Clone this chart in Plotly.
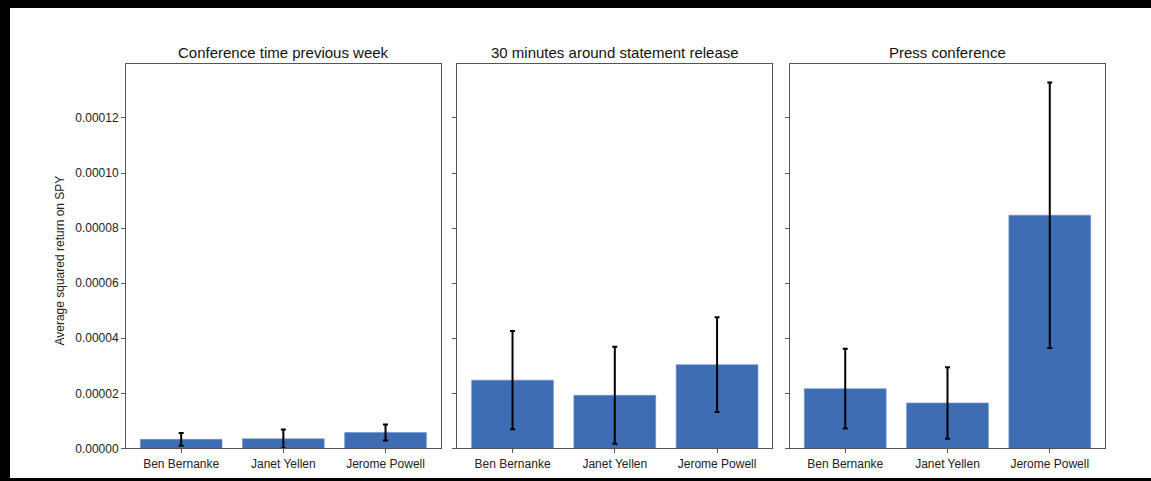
import plotly.graph_objects as go

W, H = 1151, 481
FIG_H = 489

# Data
speakers = ["Ben Bernanke", "Janet Yellen", "Jerome Powell"]
panel_titles = [
    "Conference time previous week",
    "30 minutes around statement release",
    "Press conference",
]
mean_prev_week = [3.3e-6, 3.5e-6, 5.8e-6]
err_prev_week = [2.3e-6, 3.4e-6, 2.9e-6]
mean_statement = [2.48e-5, 1.93e-5, 3.04e-5]
err_statement = [1.78e-5, 1.76e-5, 1.72e-5]
mean_press = [2.17e-5, 1.65e-5, 8.47e-5]
err_press = [1.45e-5, 1.30e-5, 4.82e-5]
y_ticks = [0, 0.00002, 0.00004, 0.00006, 0.00008, 0.00010, 0.00012]

means = [mean_prev_week, mean_statement, mean_press]
errs = [err_prev_week, err_statement, err_press]

BAR = "#3e6db3"
FONT = "Liberation Sans, Arial, Helvetica, sans-serif"
AXIS_LINE = "#555555"

# panel edges in pixels
x_edges = [(126, 440.7), (457.3, 772.3), (790, 1105)]
y_top, y_bot = 64, 447.5

fig = go.Figure()
layout = dict(
    width=W, height=FIG_H,
    margin=dict(l=0, r=0, t=0, b=0),
    paper_bgcolor="white", plot_bgcolor="white",
    showlegend=False,
    font=dict(family=FONT, size=12, color="#222222"),
    bargap=0.2,
)

ymax = max(m + e for mm, ee in zip(means, errs) for m, e in zip(mm, ee)) * 1.05
annotations = []
for i in range(3):
    n = "" if i == 0 else str(i + 1)
    fig.add_trace(go.Bar(
        x=speakers, y=means[i],
        xaxis="x" + n, yaxis="y" + n,
        marker=dict(color=BAR, line=dict(color="#6b93cf", width=0.6)),
        width=0.8,
        error_y=dict(type="data", array=errs[i], visible=True,
                     color="black", thickness=2, width=2.5),
    ))
    x0, x1 = x_edges[i]
    layout["xaxis" + n] = dict(
        domain=[x0 / W, x1 / W], anchor="y" + n,
        range=[-0.54, 2.54], type="category",
        showline=True, mirror=True, linecolor=AXIS_LINE, linewidth=1,
        ticks="outside", ticklen=4, tickcolor=AXIS_LINE,
        tickfont=dict(size=12, color="#222222"),
        showgrid=False, zeroline=False, fixedrange=True,
    )
    layout["yaxis" + n] = dict(
        domain=[1 - y_bot / H, 1 - y_top / H], anchor="x" + n,
        range=[0, ymax],
        tickvals=y_ticks, tickformat=".5f",
        showticklabels=(i == 0),
        showline=True, mirror=True, linecolor=AXIS_LINE, linewidth=1,
        ticks="outside", ticklen=4, tickcolor=AXIS_LINE,
        tickfont=dict(size=12, color="#222222"),
        showgrid=False, zeroline=False, fixedrange=True,
    )
    annotations.append(dict(
        text=panel_titles[i], x=(x0 + x1) / 2 / W, y=1 - 52 / H,
        xref="paper", yref="paper", xanchor="center", yanchor="middle",
        showarrow=False, font=dict(size=15, color="#111111"),
    ))

annotations.append(dict(
    text="Average squared return on SPY", textangle=-90,
    x=60 / W, y=1 - 260 / H, xref="paper", yref="paper",
    xanchor="center", yanchor="middle", showarrow=False,
    font=dict(size=12, color="#222222"),
))
layout["annotations"] = annotations

# black frame strips along the left, top and bottom edges
frame = [(0, 0, 10, H), (0, 0, W, 8), (0, 477, W, H)]
layout["shapes"] = [
    dict(type="rect", xref="paper", yref="paper",
         x0=a / W, x1=c / W, y0=1 - d / H, y1=1 - b / H,
         fillcolor="black", line=dict(width=0), layer="above")
    for a, b, c, d in frame
]

fig.update_layout(**layout)
fig.write_html("out.html")
